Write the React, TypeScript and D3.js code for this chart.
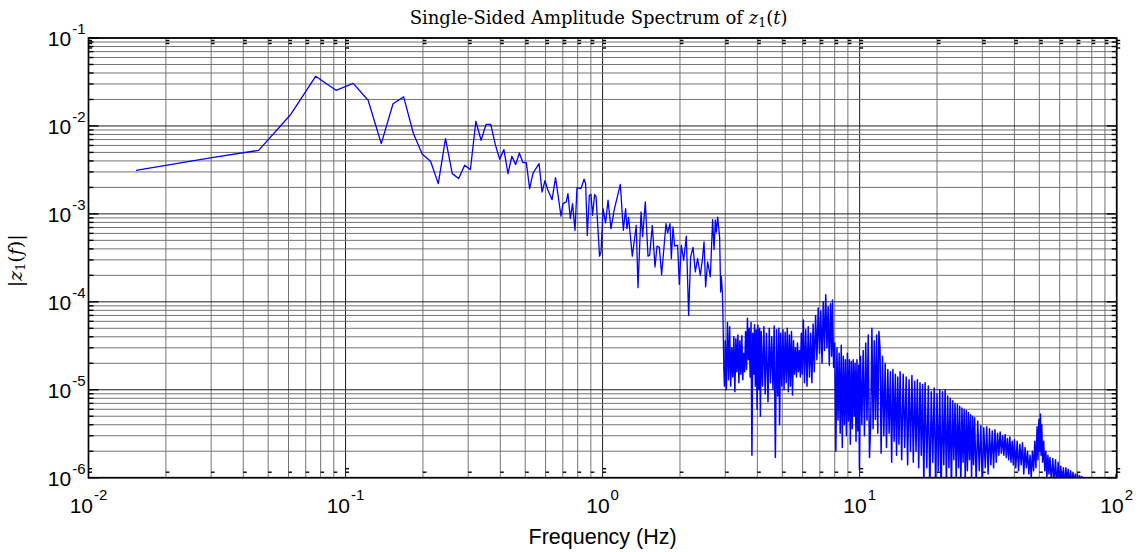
import React from 'react';
import * as d3 from 'd3';

const W = 1140;
const H = 552;

// ---- data ----
// first FFT bins (Hz) and their amplitudes
const lowFreq = [
  0.0153, 0.0306, 0.0459, 0.0612, 0.0765, 0.0918, 0.1071, 0.1224, 0.1377, 0.153,
  0.1683, 0.1836, 0.1989, 0.2142, 0.2295, 0.2448, 0.2601, 0.2754, 0.2907, 0.306,
  0.3213, 0.3366, 0.3519, 0.3672, 0.3825, 0.3978, 0.4131, 0.4284, 0.4437, 0.459,
  0.4743, 0.4896, 0.5049, 0.5202, 0.5355, 0.5508, 0.5661, 0.5814, 0.5967, 0.612,
];
const lowAmp = [
  3.13e-3, 4.4e-3, 5.28e-3, 1.35e-2, 3.67e-2, 2.54e-2, 3.05e-2, 1.96e-2, 6.3e-3, 1.79e-2,
  2.14e-2, 8.2e-3, 4.76e-3, 3.96e-3, 2.21e-3, 7.18e-3, 2.87e-3, 2.52e-3, 3.57e-3, 3.19e-3,
  1.13e-2, 6.87e-3, 1.04e-2, 1.04e-2, 6.14e-3, 4.18e-3, 5.38e-3, 2.87e-3, 4.52e-3, 3.63e-3,
  4.93e-3, 3.83e-3, 3.83e-3, 1.94e-3, 2.87e-3, 3.3e-3, 3.73e-3, 1.77e-3, 2.38e-3, 1.88e-3,
];

// 0.6 – 3 Hz  [frequency Hz, amplitude]
const midBand: [number, number][] = [
  [0.636, 1.45e-3], [0.656, 2.59e-3], [0.689, 9.4e-4], [0.701, 1.31e-3], [0.722, 1.37e-3],
  [0.733, 1.7e-3], [0.749, 8.85e-4], [0.764, 1.31e-3], [0.781, 6.5e-4], [0.795, 1.99e-3],
  [0.824, 1.94e-3], [0.847, 2.48e-3], [0.859, 2.21e-3], [0.872, 5.67e-4], [0.888, 1.63e-3],
  [0.901, 1.67e-3], [0.914, 9.65e-4], [0.931, 1.66e-3], [0.943, 1.58e-3], [0.973, 3.3e-4],
  [0.986, 3.69e-4], [1.004, 1.15e-3], [1.027, 7.9e-4], [1.05, 1.43e-3], [1.078, 6.8e-4],
  [1.11, 1.12e-3], [1.172, 2.17e-3], [1.204, 6.5e-4], [1.229, 1.15e-3], [1.244, 6.8e-4],
  [1.262, 9.1e-4], [1.305, 3.3e-4], [1.352, 7.4e-4], [1.373, 1.45e-4], [1.411, 1.05e-3],
  [1.431, 5.5e-4], [1.466, 1.37e-3], [1.502, 3.3e-4], [1.524, 3.39e-4], [1.561, 7.4e-4],
  [1.599, 2.49e-4], [1.628, 4.29e-4], [1.662, 4.16e-4], [1.697, 2.04e-4], [1.765, 7.76e-4],
  [1.79, 6.07e-4], [1.829, 7.76e-4], [1.851, 3.1e-4], [1.879, 7.1e-4], [1.906, 4.29e-4],
  [1.958, 4.4e-4], [1.988, 1.58e-4], [2.024, 4.4e-4], [2.067, 2.97e-4], [2.117, 5.57e-4],
  [2.161, 7.0e-5], [2.2, 3.24e-4], [2.248, 4.16e-4], [2.295, 2.19e-4], [2.342, 3.1e-4],
  [2.4, 2.0e-4], [2.443, 2.97e-4], [2.481, 4.8e-4], [2.516, 1.48e-4], [2.562, 2.84e-4],
  [2.625, 1.92e-4], [2.679, 8.6e-4], [2.714, 3.93e-4], [2.745, 8.5e-4], [2.77, 6.2e-4],
  [2.803, 9.2e-4], [2.853, 5.4e-4], [2.879, 1.29e-4], [2.897, 1.95e-4], [2.923, 1.3e-4],
  [2.941, 6.3e-5], [2.962, 1.82e-5],
];

// 3 – 10 Hz
const band3to10: [number, number][] = [
  [2.98, 1.1e-5], [3.0, 3.6e-5], [3.03, 1.0e-5], [3.06, 5.8e-5], [3.09, 1.3e-5], [3.12, 5.2e-5],
  [3.15, 1.1e-5], [3.18, 3.0e-5], [3.21, 1.4e-5], [3.24, 4.0e-5], [3.27, 9.5e-6], [3.3, 3.8e-5],
  [3.33, 1.6e-5], [3.36, 4.2e-5], [3.39, 1.2e-5], [3.42, 3.6e-5], [3.45, 1.5e-5], [3.48, 4.1e-5],
  [3.51, 1.3e-5], [3.54, 2.6e-5], [3.57, 1.6e-5], [3.6, 4.6e-5], [3.63, 1.7e-5], [3.66, 6.5e-5],
  [3.69, 2.2e-5], [3.72, 5.0e-5], [3.75, 1.4e-5], [3.78, 5.8e-5], [3.81, 1.8e-6], [3.84, 4.4e-5],
  [3.87, 1.5e-5], [3.9, 5.5e-5], [3.93, 1.1e-5], [3.96, 4.8e-5], [3.99, 6e-6], [4.02, 5.4e-5],
  [4.05, 1.0e-5], [4.08, 5.0e-5], [4.11, 5e-6], [4.14, 4.6e-5], [4.19, 1.1e-5], [4.24, 5.2e-5],
  [4.29, 9e-6], [4.34, 4.4e-5], [4.4, 7.3e-6], [4.45, 5.0e-5], [4.5, 1.2e-5], [4.55, 4.0e-5],
  [4.6, 1.0e-5], [4.65, 5.3e-5], [4.7, 1.7e-6], [4.75, 4.8e-5], [4.8, 8.5e-6], [4.85, 5.0e-5],
  [4.88, 4.0e-6], [4.93, 4.4e-5], [4.98, 1.1e-5], [5.03, 4.8e-5], [5.08, 1.0e-5], [5.13, 4.5e-5],
  [5.18, 1.2e-5], [5.23, 5.0e-5], [5.28, 9.5e-6], [5.33, 4.2e-5], [5.38, 1.1e-5], [5.43, 4.6e-5],
  [5.48, 8.7e-6], [5.53, 3.6e-5], [5.58, 1.5e-5], [5.63, 3.0e-5], [5.68, 1.4e-5], [5.73, 3.4e-5],
  [5.78, 1.6e-5], [5.83, 2.8e-5], [5.88, 1.4e-5], [5.93, 4.4e-5], [5.98, 1.5e-5], [6.04, 6.2e-5],
  [6.1, 1.2e-5], [6.17, 4.8e-5], [6.24, 1.1e-5], [6.31, 5.2e-5], [6.38, 1.4e-5], [6.45, 4.4e-5],
  [6.52, 1.2e-5], [6.59, 5.6e-5], [6.66, 1.6e-5], [6.74, 7.0e-5], [6.82, 2.2e-5], [6.9, 8.5e-5],
  [6.98, 2.6e-5], [7.06, 7.8e-5], [7.14, 2.0e-5], [7.22, 1.0e-4], [7.3, 2.8e-5], [7.38, 1.2e-4],
  [7.46, 3.0e-5], [7.54, 8.8e-5], [7.62, 1.9e-5], [7.7, 9.5e-5], [7.78, 2.4e-5], [7.84, 1.05e-4],
  [7.92, 1.8e-5], [8.0, 3.4e-5], [8.08, 2.0e-6], [8.16, 3.0e-5], [8.24, 4.5e-6], [8.32, 2.6e-5],
  [8.4, 3.2e-6], [8.48, 3.2e-5], [8.56, 2.2e-6], [8.64, 2.4e-5], [8.72, 4.0e-6], [8.8, 2.2e-5],
  [8.88, 3.0e-6], [8.96, 2.6e-5], [9.04, 4.4e-6], [9.12, 2.2e-5], [9.2, 2.4e-6], [9.28, 2.1e-5],
  [9.36, 3.6e-6], [9.44, 2.2e-5], [9.52, 5e-6], [9.6, 2.0e-5], [9.68, 2.6e-6], [9.76, 2.2e-5],
  [9.84, 3.4e-6], [9.92, 1.9e-5], [9.98, 1.25e-6],
];

// 10 – 28 Hz
const band10to28: [number, number][] = [
  [10.08, 2.4e-5], [10.2, 4.0e-6], [10.32, 2.8e-5], [10.44, 3.0e-6], [10.56, 3.4e-5], [10.68, 4.5e-6],
  [10.8, 4.2e-5], [10.92, 1.7e-6], [11.04, 4.0e-6], [11.16, 5.0e-5], [11.28, 3.6e-6], [11.4, 3.6e-5],
  [11.52, 4.6e-6], [11.64, 4.2e-5], [11.76, 3.2e-6], [11.88, 4.6e-5], [12.0, 3.0e-5], [12.12, 1.9e-6],
  [12.27, 2.4e-5], [12.42, 3.0e-6], [12.57, 2.0e-5], [12.72, 2.2e-6], [12.87, 1.7e-5], [13.02, 3.2e-6],
  [13.17, 1.6e-5], [13.32, 1.5e-6], [13.47, 1.7e-5], [13.62, 2.6e-6], [13.77, 1.5e-5], [13.92, 1.8e-6],
  [14.07, 1.4e-5], [14.22, 2.4e-6], [14.37, 1.6e-5], [14.57, 1.6e-6], [14.77, 1.5e-5], [14.97, 2.2e-6],
  [15.17, 1.4e-5], [15.37, 1.4e-6], [15.57, 1.3e-5], [15.77, 2.0e-6], [15.97, 1.45e-5], [16.17, 1.5e-6],
  [16.37, 1.25e-5], [16.57, 2.0e-6], [16.77, 1.3e-5], [16.97, 1.3e-6], [17.17, 1.2e-5], [17.37, 1.8e-6],
  [17.57, 1.15e-5], [17.77, 8e-7], [17.97, 1.2e-5], [18.25, 1.3e-6], [18.5, 1.1e-5], [18.75, 7e-7],
  [19.0, 9.5e-6], [19.25, 1.5e-6], [19.5, 1.05e-5], [19.75, 8e-7], [20.0, 9.0e-6], [20.25, 1.2e-6],
  [20.5, 1.0e-5], [20.75, 6e-7], [21.0, 9.5e-6], [21.25, 1.4e-6], [21.5, 1.0e-5], [21.75, 8e-7],
  [22.0, 8.5e-6], [22.25, 1.3e-6], [22.5, 8.0e-6], [22.75, 7e-7], [23.0, 7.5e-6], [23.25, 1.6e-6],
  [23.5, 7.0e-6], [23.75, 9e-7], [24.0, 6.8e-6], [24.25, 1.3e-6], [24.5, 6.5e-6], [24.75, 8e-7],
  [25.0, 6.2e-6], [25.25, 1.5e-6], [25.5, 6.0e-6], [25.75, 9e-7], [26.0, 5.8e-6], [26.25, 1.2e-6],
  [26.5, 5.5e-6], [26.75, 1.6e-6], [27.0, 5.2e-6], [27.25, 1.0e-6], [27.5, 5.0e-6], [27.75, 1.4e-6],
  [28.0, 4.8e-6],
];

// 28 – 100 Hz
const band28to100: [number, number][] = [
  [28.4, 9e-7], [28.8, 4.4e-6], [29.2, 1.2e-6], [29.6, 3.9e-6], [30.0, 8e-7], [30.4, 3.7e-6],
  [30.8, 1.3e-6], [31.2, 3.8e-6], [31.6, 1.1e-6], [32.0, 3.6e-6], [32.4, 1.4e-6], [32.8, 3.4e-6],
  [33.2, 1.3e-6], [33.6, 3.5e-6], [34.0, 1.5e-6], [34.4, 3.2e-6], [34.8, 1.8e-6], [35.2, 3.3e-6],
  [35.6, 1.9e-6], [36.0, 3.0e-6], [36.4, 1.8e-6], [36.8, 3.1e-6], [37.2, 1.7e-6], [37.6, 2.8e-6],
  [38.0, 1.6e-6], [38.4, 2.9e-6], [38.8, 1.5e-6], [39.2, 2.6e-6], [39.6, 1.4e-6], [40.0, 2.7e-6],
  [40.5, 1.3e-6], [41.0, 2.6e-6], [41.5, 1.2e-6], [42.0, 2.4e-6], [42.5, 1.4e-6], [43.0, 2.5e-6],
  [43.5, 1.1e-6], [44.0, 2.2e-6], [44.5, 1.3e-6], [45.0, 2.0e-6], [45.5, 1.1e-6], [46.0, 1.8e-6],
  [46.5, 1.0e-6], [47.0, 2.0e-6], [47.5, 1.2e-6], [48.0, 2.6e-6], [48.5, 1.3e-6], [49.0, 3.8e-6],
  [49.4, 1.6e-6], [49.8, 4.6e-6], [50.2, 2.0e-6], [50.5, 5.3e-6], [50.8, 1.8e-6], [51.1, 4.0e-6],
  [51.5, 1.5e-6], [52.0, 2.6e-6], [52.5, 1.2e-6], [53.0, 2.0e-6], [53.5, 1.0e-6], [54.0, 1.8e-6],
  [54.5, 1.1e-6], [55.0, 1.7e-6], [55.7, 9e-7], [56.4, 1.65e-6], [57.1, 9e-7], [57.8, 1.6e-6],
  [58.5, 8e-7], [59.2, 1.5e-6], [59.9, 9e-7], [60.6, 1.35e-6], [61.3, 8e-7], [62.0, 1.3e-6],
  [62.7, 8e-7], [63.4, 1.3e-6], [64.1, 9e-7], [64.8, 1.25e-6], [65.5, 8e-7], [66.2, 1.2e-6],
  [66.9, 8e-7], [67.6, 1.15e-6], [68.3, 8e-7], [69.0, 1.1e-6], [69.7, 8e-7], [70.4, 1.1e-6],
  [71.1, 8e-7], [71.8, 1.05e-6], [72.5, 8e-7], [73.2, 1.03e-6], [73.9, 8e-7], [74.6, 1.0e-6],
  [76.0, 6e-7], [98.8, 6e-7], [99.4, 1.08e-6], [100.0, 6e-7],
];

const xDecades = [0.01, 0.1, 1, 10, 100];
const xDecadeExps = ['-2', '-1', '0', '1', '2'];
const yDecades = [1e-6, 1e-5, 1e-4, 1e-3, 1e-2, 1e-1];
const yDecadeExps = ['-6', '-5', '-4', '-3', '-2', '-1'];

const titleText = 'Single-Sided Amplitude Spectrum of ';
const xLabelText = 'Frequency (Hz)';

// ---- layout ----
const X0 = 88.5, X1 = 1116.7, Y0 = 38, Y1 = 477.7;
const sans = '"Liberation Sans", Arial, Helvetica, sans-serif';
const serif = '"DejaVu Serif", "Liberation Serif", serif';

const isDecade = (v: number) => Math.abs(Math.log10(v) - Math.round(Math.log10(v))) < 1e-9;

export default function App() {
  const x = d3.scaleLog().domain([0.01, 100]).range([X0, X1]);
  const y = d3.scaleLog().domain([1e-6, 1e-1]).range([Y1, Y0]);

  const xTicks = x.ticks();
  const yTicks = y.ticks();

  const sparsePts: [number, number][] = [
    ...lowFreq.map((f, i) => [f, lowAmp[i]] as [number, number]),
    ...midBand,
  ];
  const densePts: [number, number][] = [
    midBand[midBand.length - 1],
    ...band3to10,
    ...band10to28,
    ...band28to100,
  ];
  const line = d3
    .line<[number, number]>()
    .x((d) => x(d[0]))
    .y((d) => y(d[1]));

  const cx = (X0 + X1) / 2;

  return (
    <svg
      width={W}
      height={H}
      style={{ position: 'absolute', left: 0, top: 0, background: '#fff' }}
    >
      <defs>
        <clipPath id="plotClip">
          <rect x={X0} y={Y0} width={X1 - X0} height={Y1 - Y0} />
        </clipPath>
      </defs>
      <rect x={0} y={0} width={W} height={H} fill="#fff" />

      {/* grid */}
      <g>
        {xTicks.map((t, i) => (
          <line
            key={'gx' + i}
            x1={x(t)}
            x2={x(t)}
            y1={Y0}
            y2={Y1}
            stroke={isDecade(t) ? '#1e1e1e' : '#737373'}
            strokeWidth={1}
          />
        ))}
        {yTicks.map((t, i) => (
          <line
            key={'gy' + i}
            x1={X0}
            x2={X1}
            y1={y(t)}
            y2={y(t)}
            stroke={isDecade(t) ? '#1e1e1e' : '#737373'}
            strokeWidth={1}
          />
        ))}
      </g>

      {/* tick marks */}
      <g stroke="#000" strokeWidth={1.4}>
        {yTicks.map((t, i) => {
          const len = isDecade(t) ? 10 : 5;
          return (
            <g key={'ty' + i}>
              <line x1={X0} x2={X0 + len} y1={y(t)} y2={y(t)} />
              <line x1={X1 - len} x2={X1} y1={y(t)} y2={y(t)} />
            </g>
          );
        })}
        {xTicks.map((t, i) => {
          const px = x(t);
          const maj = isDecade(t);
          return (
            <g key={'tx' + i}>
              <line x1={px} x2={px + 3.5} y1={Y1 - 5.5} y2={Y1 - 5.5} />
              {maj && <line x1={px} x2={px + 3.5} y1={Y1 - 9} y2={Y1 - 9} />}
              <line x1={px} x2={px + 3.5} y1={Y0 + 2.5} y2={Y0 + 2.5} />
              <line x1={px} x2={px + 3.5} y1={Y0 + 5.5} y2={Y0 + 5.5} />
              {maj && <line x1={px} x2={px + 3.5} y1={Y0 + 10} y2={Y0 + 10} />}
            </g>
          );
        })}
      </g>

      {/* data */}
      <g clipPath="url(#plotClip)" fill="none" stroke="#0000ff" strokeLinejoin="round">
        <path d={line(sparsePts) || ''} strokeWidth={1.3} />
        <path d={line(densePts) || ''} strokeWidth={1.5} />
      </g>

      {/* axes box */}
      <rect x={X0} y={Y0} width={X1 - X0} height={Y1 - Y0} fill="none" stroke="#000" strokeWidth={1.7} />

      {/* tick labels */}
      <g fontFamily={sans} fill="#000">
        {xDecades.map((v, i) => (
          <text key={'xl' + i} x={x(v)} y={Y1 + 35.6} textAnchor="middle" fontSize={21}>
            <tspan>10</tspan>
            <tspan fontSize={15} dx={1} dy={-13}>
              {xDecadeExps[i]}
            </tspan>
          </text>
        ))}
        {yDecades.map((v, i) => (
          <text key={'yl' + i} x={85.5} y={y(v) + 7.8} textAnchor="end" fontSize={21}>
            <tspan>10</tspan>
            <tspan fontSize={15} dx={1} dy={-12}>
              {yDecadeExps[i]}
            </tspan>
          </text>
        ))}
        <text x={cx} y={544} textAnchor="middle" fontSize={21.5}>
          {xLabelText}
        </text>
      </g>

      {/* title */}
      <text x={cx - 4} y={23.5} textAnchor="middle" fontFamily={serif} fontSize={18} fill="#000">
        <tspan>{titleText}</tspan>
        <tspan fontStyle="italic">z</tspan>
        <tspan fontSize={12.5} dy={3}>1</tspan>
        <tspan dy={-3}>(</tspan>
        <tspan fontStyle="italic">t</tspan>
        <tspan>)</tspan>
      </text>

      {/* y label */}
      <text
        transform={`translate(22, ${(Y0 + Y1) / 2 + 3}) rotate(-90)`}
        textAnchor="middle"
        fontFamily={serif}
        fontSize={19}
        fill="#000"
      >
        <tspan>|</tspan>
        <tspan fontStyle="italic">z</tspan>
        <tspan fontSize={13} dy={3}>1</tspan>
        <tspan dy={-3}>(</tspan>
        <tspan fontStyle="italic">f</tspan>
        <tspan>)|</tspan>
      </text>
    </svg>
  );
}
